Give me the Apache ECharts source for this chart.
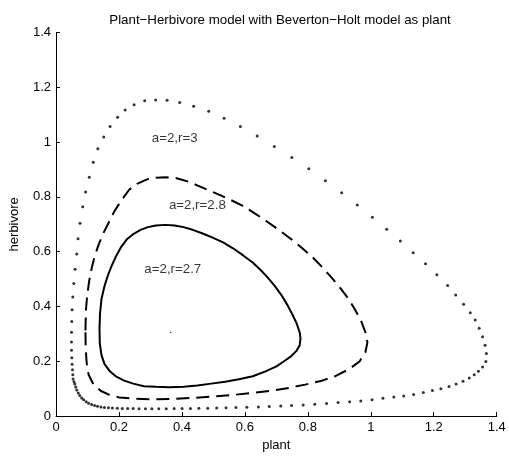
<!DOCTYPE html>
<html>
<head>
<meta charset="utf-8">
<script src="https://cdn.jsdelivr.net/npm/echarts@6/dist/echarts.min.js"></script>
<style>
  html, body { margin: 0; padding: 0; background: #fff; }
  #chart { width: 509px; height: 457px; }
</style>
</head>
<body>
<div id="chart"></div>
<script>
// axis ticks
const xTicks = [0, 0.2, 0.4, 0.6, 0.8, 1, 1.2, 1.4]
const yTicks = [0, 0.2, 0.4, 0.6, 0.8, 1, 1.2, 1.4]

// a=2, r=3 : iterates (dotted)
const orbitR3 = [
  [0.0543, 0.1354], [0.0534, 0.1509], [0.0524, 0.1688], [0.0512, 0.1893], [0.0503, 0.2130],
  [0.0493, 0.2407], [0.0493, 0.2705], [0.0493, 0.3064], [0.0503, 0.3448], [0.0512, 0.3879],
  [0.0534, 0.4346], [0.0565, 0.4838], [0.0606, 0.5363], [0.0660, 0.5916], [0.0700, 0.6476],
  [0.0763, 0.7040], [0.0848, 0.7640], [0.0942, 0.8179], [0.1058, 0.8718], [0.1184, 0.9267],
  [0.1329, 0.9760], [0.1517, 1.0190], [0.1718, 1.0571], [0.1957, 1.0909], [0.2198, 1.1171],
  [0.2481, 1.1362], [0.2817, 1.1505], [0.3166, 1.1541], [0.3530, 1.1530], [0.3929, 1.1448],
  [0.4372, 1.1304], [0.4852, 1.1125], [0.5339, 1.0873], [0.5857, 1.0571], [0.6391, 1.0226],
  [0.6935, 0.9842], [0.7491, 0.9436], [0.8031, 0.9027], [0.8558, 0.8585], [0.9077, 0.8147],
  [0.9570, 0.7705], [1.0050, 0.7256], [1.0506, 0.6818], [1.0939, 0.6394], [1.1347, 0.5963],
  [1.1740, 0.5557], [1.2098, 0.5155], [1.2441, 0.4770], [1.2698, 0.4418], [1.2949, 0.4084],
  [1.3160, 0.3772], [1.3317, 0.3509], [1.3443, 0.3208], [1.3552, 0.2892], [1.3631, 0.2586],
  [1.3672, 0.2281], [1.3656, 0.1994], [1.3552, 0.1796], [1.3420, 0.1634], [1.3285, 0.1509],
  [1.3128, 0.1390], [1.2930, 0.1268], [1.2710, 0.1175], [1.2484, 0.1078], [1.2227, 0.0999],
  [1.1957, 0.0934], [1.1668, 0.0862], [1.1360, 0.0790], [1.1046, 0.0736], [1.0732, 0.0693],
  [1.0386, 0.0647], [1.0041, 0.0600], [0.9683, 0.0550], [0.9328, 0.0528], [0.8960, 0.0492],
  [0.8596, 0.0456], [0.8219, 0.0431], [0.7852, 0.0406], [0.7484, 0.0384], [0.7139, 0.0370],
  [0.6775, 0.0348], [0.6429, 0.0334], [0.6062, 0.0323], [0.5716, 0.0313], [0.5402, 0.0302],
  [0.5104, 0.0295], [0.4821, 0.0287], [0.4538, 0.0284], [0.4271, 0.0280], [0.4004, 0.0277],
  [0.3753, 0.0273], [0.3502, 0.0269], [0.3266, 0.0269], [0.3046, 0.0269], [0.2842, 0.0269],
  [0.2638, 0.0269], [0.2450, 0.0273], [0.2277, 0.0277], [0.2104, 0.0280], [0.1947, 0.0287],
  [0.1790, 0.0295], [0.1665, 0.0305], [0.1539, 0.0316], [0.1429, 0.0334], [0.1319, 0.0359],
  [0.1225, 0.0388], [0.1131, 0.0420], [0.1036, 0.0467], [0.0958, 0.0521], [0.0879, 0.0593],
  [0.0817, 0.0665], [0.0754, 0.0754], [0.0707, 0.0844], [0.0660, 0.0952], [0.0628, 0.1060],
  [0.0597, 0.1167], [0.0572, 0.1257]
]

// a=2, r=2.8 (dashed)
const orbitR28 = [
  [0.0936, 0.3125], [0.0949, 0.3843], [0.0989, 0.4382], [0.1052, 0.4921], [0.1131, 0.5388],
  [0.1225, 0.5819], [0.1351, 0.6250], [0.1492, 0.6645], [0.1665, 0.7040], [0.1853, 0.7471],
  [0.2073, 0.7866], [0.2324, 0.8262], [0.2575, 0.8477], [0.2889, 0.8639], [0.3172, 0.8703],
  [0.3486, 0.8721], [0.3832, 0.8682], [0.4177, 0.8567], [0.4523, 0.8405], [0.4868, 0.8233],
  [0.5214, 0.8064], [0.5559, 0.7884], [0.5936, 0.7669], [0.6313, 0.7400], [0.6690, 0.7112],
  [0.7067, 0.6807], [0.7443, 0.6484], [0.7789, 0.6160], [0.8134, 0.5819], [0.8449, 0.5442],
  [0.8763, 0.5047], [0.9046, 0.4652], [0.9297, 0.4274], [0.9501, 0.3879], [0.9689, 0.3484],
  [0.9830, 0.3053], [0.9893, 0.2694], [0.9830, 0.2335], [0.9642, 0.1994], [0.9328, 0.1724],
  [0.8888, 0.1466], [0.8449, 0.1293], [0.7915, 0.1149], [0.7412, 0.1031], [0.6878, 0.0934],
  [0.6250, 0.0844], [0.5622, 0.0772], [0.4994, 0.0711], [0.4366, 0.0665], [0.3737, 0.0629],
  [0.3109, 0.0611], [0.2481, 0.0636], [0.2010, 0.0682], [0.1665, 0.0790], [0.1429, 0.0916],
  [0.1193, 0.1149], [0.1036, 0.1509], [0.0974, 0.1940], [0.0942, 0.2514], [0.0936, 0.3125]
]

// a=2, r=2.7 (solid)
const orbitR27 = [
  [0.1382, 0.3197], [0.1398, 0.3736], [0.1445, 0.4274], [0.1539, 0.4741], [0.1649, 0.5137],
  [0.1759, 0.5460], [0.1916, 0.5855], [0.2073, 0.6178], [0.2261, 0.6466], [0.2481, 0.6663],
  [0.2701, 0.6807], [0.2921, 0.6897], [0.3172, 0.6958], [0.3477, 0.6979], [0.3769, 0.6958],
  [0.4052, 0.6897], [0.4366, 0.6789], [0.4680, 0.6656], [0.4994, 0.6502], [0.5308, 0.6340],
  [0.5622, 0.6124], [0.5936, 0.5873], [0.6250, 0.5604], [0.6501, 0.5334], [0.6721, 0.5065],
  [0.6941, 0.4759], [0.7161, 0.4418], [0.7349, 0.4059], [0.7506, 0.3718], [0.7648, 0.3376],
  [0.7742, 0.3053], [0.7767, 0.2838], [0.7742, 0.2586], [0.7632, 0.2371], [0.7475, 0.2191],
  [0.7255, 0.2011], [0.7004, 0.1814], [0.6658, 0.1634], [0.6250, 0.1455], [0.5810, 0.1347],
  [0.5371, 0.1257], [0.4931, 0.1185], [0.4491, 0.1114], [0.4052, 0.1070], [0.3612, 0.1052],
  [0.3172, 0.1067], [0.2795, 0.1088], [0.2450, 0.1185], [0.2167, 0.1293], [0.1916, 0.1437],
  [0.1712, 0.1634], [0.1539, 0.1904], [0.1445, 0.2227], [0.1391, 0.2658], [0.1382, 0.3197]
]

// fixed point
const equilibrium = [[0.364, 0.305]]

// curve labels
const labelNames = ['a=2,r=3', 'a=2,r=2.8', 'a=2,r=2.7']
const labelPos = [[0.377, 1.013], [0.449, 0.769], [0.371, 0.535]]

const font = 'Liberation Sans, Arial, Helvetica, sans-serif'
const chart = echarts.init(document.getElementById('chart'), null, { renderer: 'canvas' })

const axisCommon = {
  type: 'value',
  min: 0,
  max: 1.4,
  interval: 0.2,
  nameLocation: 'middle',
  nameTextStyle: { color: '#000', fontSize: 13, fontFamily: font },
  axisLine: { show: true, onZero: false, lineStyle: { color: '#000', width: 1 } },
  axisTick: { show: true, inside: true, length: 4, lineStyle: { color: '#000' } },
  splitLine: { show: false },
  axisLabel: { color: '#000', fontSize: 13, fontFamily: font, margin: 5 }
}

chart.setOption({
  animation: false,
  backgroundColor: '#fff',
  title: {
    text: 'Plant\u2212Herbivore model with Beverton\u2212Holt model as plant',
    left: 275,
    textAlign: 'center',
    top: 9,
    textStyle: { color: '#000', fontSize: 13.3, fontWeight: 'normal', fontFamily: font }
  },
  grid: { left: 51, right: 12.3, top: 32.5, bottom: 35 },
  xAxis: Object.assign({}, axisCommon, { name: 'plant', nameGap: 19 }),
  yAxis: Object.assign({}, axisCommon, { name: 'herbivore', nameGap: 35 }),
  series: [
    {
      type: 'scatter',
      data: orbitR3,
      symbol: 'circle',
      symbolSize: 3,
      itemStyle: { color: '#000' },
      silent: true
    },
    {
      type: 'line',
      data: orbitR28,
      showSymbol: false,
      lineStyle: { color: '#000', width: 2, type: [13, 7] },
      silent: true
    },
    {
      type: 'line',
      data: orbitR27,
      showSymbol: false,
      lineStyle: { color: '#000', width: 2 },
      silent: true
    },
    {
      type: 'scatter',
      data: equilibrium,
      symbolSize: 1.5,
      itemStyle: { color: '#000' },
      silent: true
    },
    {
      type: 'scatter',
      data: labelPos.map((p, i) => ({ name: labelNames[i], value: p })),
      symbolSize: 0,
      label: {
        show: true,
        position: 'inside',
        formatter: p => p.name,
        color: '#000',
        fontSize: 13.3,
        fontFamily: font
      },
      silent: true
    }
  ]
})
</script>
</body>
</html>
